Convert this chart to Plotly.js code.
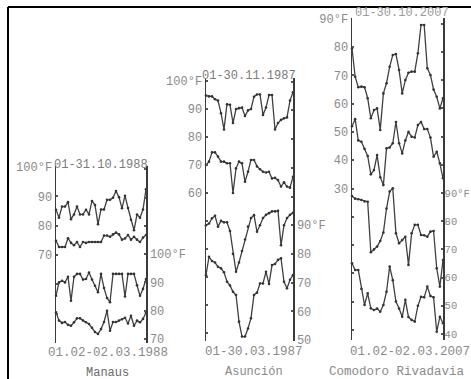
<!DOCTYPE html>
<html><head><meta charset="utf-8">
<script src="https://cdn.plot.ly/plotly-3.0.1.min.js"></script>
<style>html,body{margin:0;padding:0;background:#fff}</style>
</head><body>
<div id="chart" style="width:471px;height:379px"></div>
<script>
// ---- categories (days) ----
const daysManaus = [1,2,3,4,5,6,7,8,9,10,11,12,13,14,15,16,17,18,19,20,21,22,23,24,25,26,27,28,29,30,31];
const daysAsuncion = [1,2,3,4,5,6,7,8,9,10,11,12,13,14,15,16,17,18,19,20,21,22,23,24,25,26,27,28,29,30];
const daysComodoro = [1,2,3,4,5,6,7,8,9,10,11,12,13,14,15,16,17,18,19,20,21,22,23,24,25,26,27,28,29,30];

// ---- Manaus: 01-31.10.1988 (left scale), 01.02-02.03.1988 (right scale), degF ----
const manausOctUpper = [85.4,82.7,86.5,86.5,88,82.2,83.8,86.5,83.8,83.8,85.4,83.8,88.4,87,80.5,85.5,85.5,88.8,88.8,89.5,91.8,89.7,85.9,90.2,86,82,78.4,83.8,82.7,85.5,92.4];
const manausOctLower = [74.8,72.7,72.7,72.7,75.7,74.1,73.3,74.4,72.7,74.4,74.1,74.4,74.4,74.4,74.4,74.4,76.6,76.6,76.2,77,77.6,77,75.2,75.6,76.8,75.2,76.2,75.2,74.4,75.9,76.8];
const manausFebUpper = [85.3,90,90.6,90,92,83.5,92,93,93,91,91.2,93.5,91,88.8,86.5,93,88,84.5,83,93,93,93,93,85,93,93,93,89,85.3,87.7,91.2];
const manausFebLower = [79.4,76.5,75.7,76,75,74.7,75.9,77.3,77.3,76.5,75.9,75.3,74,72.5,71.8,73.5,76,80,72.9,76,76,76.5,77,77.5,75.5,78.2,74.7,76.5,75.9,77.1,79.4];

// ---- Asuncion: 01-30.11.1987 (left), 01-30.03.1987 (right) ----
const asuncionNovUpper = [94.8,94.5,94.5,93.5,93,88.5,82.7,91.7,91.5,85,90,90.3,90.5,87.5,89.5,90,94.4,95.2,95.2,87.9,90.5,95,95,82.7,85,86.1,86.7,87,93,96];
const asuncionNovLower = [70,71.2,74.5,74.5,73,71.2,71.2,70.6,70.6,60,68.8,71.2,70.6,64,67.6,71.8,71.8,69.5,68.5,67.6,67.3,67.6,65.2,65.4,64.6,62.3,63.8,62.3,61.9,65.8];
const asuncionMarUpper = [90,90.6,92.4,93.3,89.5,91.5,91,91,88,80,73.8,77,81,85,89.5,92.5,93.5,87.7,90,92.5,93.6,94.2,94.8,94.8,95,83,90,92.5,93.6,94.3];
const asuncionMarLower = [72.6,79,77.5,77,75.5,75,73.6,70.3,69,66.8,65.7,56.4,51.2,51.2,54,57.6,65.7,66.5,69.7,69.7,73.8,69.5,76.1,76.5,77.9,78.5,70.3,68,71,72.6];

// ---- Comodoro Rivadavia: 01-30.10.2007 (left), 01.02-02.03.2007 (right) ----
const comodoroOctUpper = [79.5,69.5,65.8,66,65.8,61.9,54.8,57.7,58.3,50.7,63.6,67.2,73,77.2,77.5,71.9,63.6,68.3,70.9,71.3,71.3,77.8,87.8,87.8,72.5,70.1,65,62.4,58.3,61.9];
const comodoroOctLower = [52,54.5,47,46.5,44,41.5,35,36.5,41.8,34,31.2,44.2,44.5,46,53.5,46,42.4,47,50,48.3,48,52.4,53.5,51,51,48,41.2,43,38.9,33.6];
const comodoroFebUpper = [88.9,88,87.8,87.5,87,86.9,69,70,71,73,76,84.5,90.5,91.7,75.7,72.2,73.3,74.5,64.5,75.7,78.7,78.7,75.1,75,74.5,76.3,76.5,63.3,56.8,66.2];
const comodoroFebLower = [65.1,62.7,62.7,56,50.3,54.4,49.1,48.5,49,47.9,50.3,55,63.9,59.1,51.5,49,46.1,52.1,46,45,44.4,50,53.2,53,56.8,53.5,53,40.8,46.1,43.8];

// ---- tick labels ----
const manausLeftTicks = [100,90,80,70,60,50];
const manausLeftText = ['100°F','90','80','70','',''];
const manausRightTicks = [70,80,90,100,110,120,130];
const manausRightText = ['70','80','90','100°F','','',''];
const asuncionLeftTicks = [100,90,80,70,60,50,40,30,20,10];
const asuncionLeftText = ['100°F','90','80','70','60','','','','',''];
const asuncionRightTicks = [50,60,70,80,90,100,110,120,130,140];
const asuncionRightText = ['50','60','70','80','90°F','','','','',''];
const comodoroLeftTicks = [90,80,70,60,50,40,30,20,10,0,-10,-20];
const comodoroLeftText = ['90°F','80','70','60','50','40','30','','','','',''];
const comodoroRightTicks = [40,50,60,70,80,90,100,110,120,130,140,150];
const comodoroRightText = ['40','50','60','70','80','90°F','','','','','',''];

const W = 471, H = 379;
const FONT = 'Liberation Mono, DejaVu Sans Mono, monospace';
const LINE = '#404040';
const TXT = '#8a8a8a';

function series(x, y, xa, ya) {
  return {x: x, y: y, xaxis: xa, yaxis: ya, type: 'scatter', mode: 'lines+markers',
    line: {color: LINE, width: 1.3}, marker: {color: '#333', size: 2.6},
    cliponaxis: false, hoverinfo: 'skip', showlegend: false};
}
const data = [
  series(daysManaus, manausOctUpper, 'x', 'y'),
  series(daysManaus, manausOctLower, 'x', 'y'),
  series(daysManaus, manausFebUpper, 'x', 'y2'),
  series(daysManaus, manausFebLower, 'x', 'y2'),
  series(daysAsuncion, asuncionNovUpper, 'x2', 'y3'),
  series(daysAsuncion, asuncionNovLower, 'x2', 'y3'),
  series(daysAsuncion, asuncionMarUpper, 'x2', 'y4'),
  series(daysAsuncion, asuncionMarLower, 'x2', 'y4'),
  series(daysComodoro, comodoroOctUpper, 'x3', 'y5'),
  series(daysComodoro, comodoroOctLower, 'x3', 'y5'),
  series(daysComodoro, comodoroFebUpper, 'x3', 'y6'),
  series(daysComodoro, comodoroFebLower, 'x3', 'y6')
];

function px(x) { return x / W; }
function py(y) { return 1 - y / H; }
function xax(l, r, n) {
  return {domain: [px(l), px(r)], range: [1, n], visible: false, fixedrange: true};
}
function yax(o) {
  return Object.assign({showline: true, linecolor: '#3a3a3a', linewidth: 1.5,
    showgrid: false, zeroline: false, ticks: 'inside', ticklen: 2, tickwidth: 2,
    tickcolor: '#555', tickmode: 'array', fixedrange: true,
    tickfont: {family: FONT, size: 12, color: TXT}}, o);
}
function ann(text, x, y, size, color) {
  return {text: text, x: px(x), y: py(y), xref: 'paper', yref: 'paper',
    showarrow: false, xanchor: 'center', yanchor: 'middle',
    font: {family: FONT, size: size, color: color}};
}

const layout = {
  width: W, height: H, margin: {l: 0, r: 0, t: 0, b: 0},
  paper_bgcolor: '#fff', plot_bgcolor: 'rgba(0,0,0,0)', showlegend: false,
  xaxis: xax(56, 146, 31),
  xaxis2: xax(206, 293, 30),
  xaxis3: xax(352, 443, 30),
  yaxis: yax({domain: [py(343), py(166)], anchor: 'x', side: 'left', range: [39.93, 100.34],
    tickvals: manausLeftTicks, ticktext: manausLeftText}),
  yaxis2: yax({overlaying: 'y', anchor: 'x', side: 'right', range: [68.59, 131.13],
    tickvals: manausRightTicks, ticktext: manausRightText}),
  yaxis3: yax({domain: [py(341), py(78)], anchor: 'x2', side: 'left', range: [7.14, 101.07],
    tickvals: asuncionLeftTicks, ticktext: asuncionLeftText}),
  yaxis4: yax({overlaying: 'y3', anchor: 'x2', side: 'right', range: [49.65, 141.29],
    tickvals: asuncionRightTicks, ticktext: asuncionRightText}),
  yaxis5: yax({domain: [py(340), py(18)], anchor: 'x3', side: 'left', range: [-23.53, 90.25],
    tickvals: comodoroLeftTicks, ticktext: comodoroLeftText}),
  yaxis6: yax({overlaying: 'y5', anchor: 'x3', side: 'right', range: [37.87, 152.06],
    tickvals: comodoroRightTicks, ticktext: comodoroRightText, ticklabelstandoff: -2,
    tickfont: {family: FONT, size: 10.5, color: TXT}}),
  shapes: [
    {type: 'line', xref: 'paper', yref: 'paper', x0: px(8), x1: 1, y0: py(7), y1: py(7), line: {color: '#000', width: 2}},
    {type: 'line', xref: 'paper', yref: 'paper', x0: px(8), x1: px(8), y0: py(7), y1: 0, line: {color: '#000', width: 2}}
  ],
  annotations: [
    ann('01-31.10.1988', 101, 165, 12, '#7a7a7a'),
    ann('01.02-02.03.1988', 108, 353, 12.5, '#8a8a8a'),
    ann('Manaus', 107, 373, 12, '#6a6a6a'),
    ann('01-30.11.1987', 249, 76, 12, '#7a7a7a'),
    ann('01-30.03.1987', 254, 352, 12.5, '#8a8a8a'),
    ann('Asunción', 254, 372, 12, '#8a8a8a'),
    ann('01-30.10.2007', 402, 13, 12, '#9a9a9a'),
    ann('01.02-02.03.2007', 410, 352, 12.5, '#8a8a8a'),
    ann('Comodoro Rivadavia', 397, 372, 12.5, '#8a8a8a')
  ]
};

Plotly.newPlot('chart', data, layout, {staticPlot: true, displayModeBar: false});
</script>
</body></html>
